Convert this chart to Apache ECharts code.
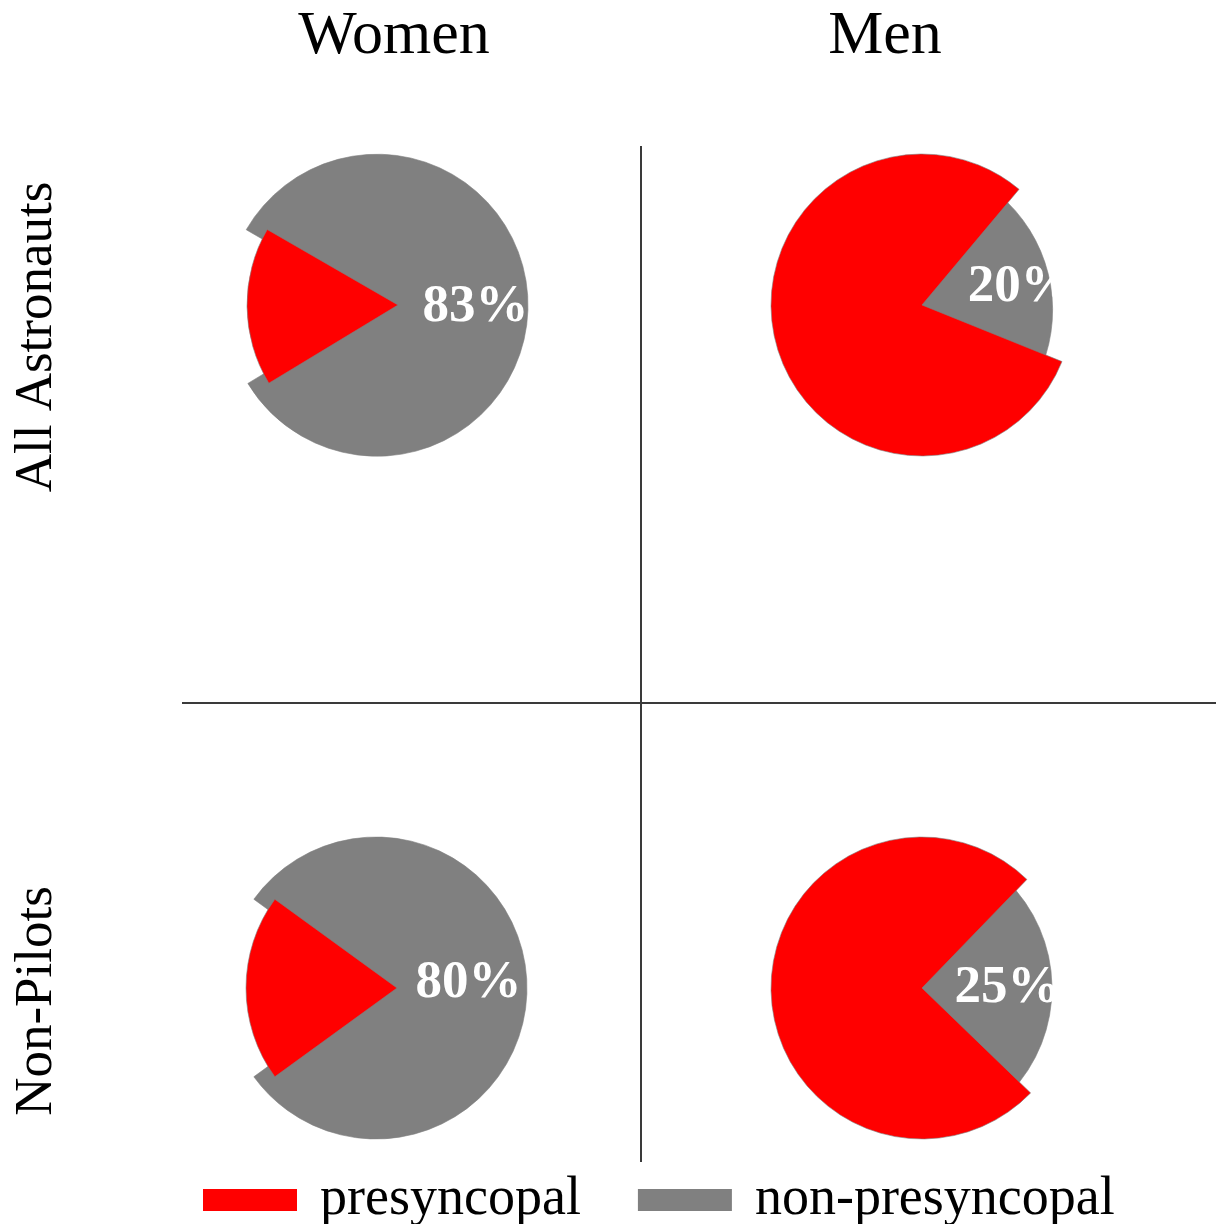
<!DOCTYPE html>
<html>
<head>
<meta charset="utf-8">
<script src="https://cdn.jsdelivr.net/npm/echarts@6/dist/echarts.min.js"></script>
<style>
	html, body { margin: 0; padding: 0; background: #fff; }
	#pieDom { width: 1216px; height: 1224px; }
</style>
</head>
<body>
<div id="pieDom"></div>
<script>
var columns = ['Women', 'Men'];
var rows = ['All Astronauts', 'Non-Pilots'];
var categories = ['presyncopal', 'non-presyncopal'];
// panel order: women/all, men/all, women/non-pilots, men/non-pilots
var presyncopal = [17, 80, 20, 75];
var nonPresyncopal = [83, 20, 80, 25];

piechart();

function piechart() {
	var dom = document.getElementById("pieDom");
	var myChart = echarts.init(dom);

	var font = 'Liberation Serif';
	var red = '#ff0000';
	var grey = '#808080';

	// where each pie sits, how it is turned, label nudge
	var panels = [
		{ center: [398, 305], startAngle: 150, shift: [20, 3] },
		{ center: [922, 305], startAngle: 50, shift: [43, -4] },
		{ center: [397, 988], startAngle: 144, shift: [14, -5] },
		{ center: [922, 988], startAngle: 46, shift: [28, 1] }
	];

	var series = panels.map(function(p, i) {
		return {
			type: 'pie',
			center: p.center,
			radius: 151,
			startAngle: p.startAngle,
			clockwise: true,
			selectedMode: 'multiple',
			selectedOffset: -21,
			percentPrecision: 0,
			animation: false,
			silent: true,
			emphasis: { disabled: true },
			labelLine: { show: false },
			labelLayout: { dx: p.shift[0], dy: p.shift[1] },
			data: [{
					name: categories[1],
					value: nonPresyncopal[i],
					selected: true,
					itemStyle: { color: grey, borderColor: grey, borderWidth: 0.6 },
					select: { itemStyle: { color: grey, borderColor: grey, borderWidth: 0.6 } },
					label: {
						show: true,
						position: 'inside',
						formatter: '{d}%',
						color: '#fff',
						fontFamily: font,
						fontWeight: 'bold',
						fontSize: 53
					}
				},
				{
					name: categories[0],
					value: presyncopal[i],
					itemStyle: { color: red, borderColor: grey, borderWidth: 0.6 },
					label: { show: false }
				}
			]
		};
	});

	var graphic = [
		{ type: 'line', shape: { x1: 641, y1: 146, x2: 641, y2: 1162 }, style: { stroke: '#3a3a3a', lineWidth: 2 } },
		{ type: 'line', shape: { x1: 182, y1: 703, x2: 1216, y2: 703 }, style: { stroke: '#3a3a3a', lineWidth: 2 } }
	];
	var colX = [394, 885];
	columns.forEach(function(c, i) {
		graphic.push({
			type: 'text', x: colX[i], y: 37,
			style: { text: c, fontFamily: font, fontSize: 62, fill: '#000', align: 'center', verticalAlign: 'middle' }
		});
	});
	var rowY = [337, 1001];
	rows.forEach(function(r, i) {
		graphic.push({
			type: 'text', x: 37, y: rowY[i], rotation: Math.PI / 2,
			style: { text: r, fontFamily: font, fontSize: 53, fill: '#000', align: 'center', verticalAlign: 'middle' }
		});
	});

	option = {
		backgroundColor: '#fff',
		legend: {
			data: categories,
			left: 198,
			top: 1168,
			icon: 'rect',
			itemWidth: 94,
			itemHeight: 22,
			itemGap: 57,
			itemStyle: { borderWidth: 0 },
			textStyle: {
				color: '#000',
				fontFamily: font,
				fontSize: 54,
				padding: [0, 0, 0, 18]
			}
		},
		graphic: graphic,
		series: series
	};
	myChart.setOption(option, true);
};
</script>
</body>
</html>
